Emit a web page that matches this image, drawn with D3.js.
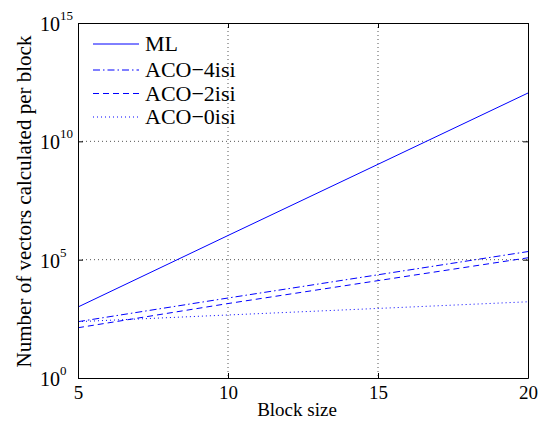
<!DOCTYPE html>
<html>
<head>
<meta charset="utf-8">
<script src="https://cdn.jsdelivr.net/npm/d3@7"></script>
<style>
  body { margin: 0; background: #fff; }
  svg text { font-family: "Liberation Serif", "Times New Roman", serif; fill: #000; }
</style>
</head>
<body>
<svg id="chart" width="545" height="425"></svg>
<script>
// block sizes read at the grid positions
const blockSize = [5, 10, 15, 20];

// vectors calculated per block
const mlValues = [1.0e3, 1.05e6, 1.07e9, 1.1e12];
const aco4Values = [240, 2.4e3, 2.3e4, 2.2e5];
const aco2Values = [133, 1.4e3, 1.3e4, 1.2e5];
const aco0Values = [240, 460, 870, 1.66e3];

const seriesNames = ["ML", "ACO\u22124isi", "ACO\u22122isi", "ACO\u22120isi"];
const xTicks = [5, 10, 15, 20];
const yTicks = [1, 1e5, 1e10, 1e15];
const yExponents = ["0", "5", "10", "15"];

const svg = d3.select("#chart");
const width = 545, height = 425;
const margin = { top: 23, right: 17, bottom: 47, left: 78 };
const innerW = width - margin.left - margin.right;
const innerH = height - margin.top - margin.bottom;

const x = d3.scaleLinear().domain([5, 20]).range([0, innerW]);
const y = d3.scaleLog().domain([1, 1e15]).range([innerH, 0]);

const g = svg.append("g")
    .attr("transform", `translate(${margin.left}, ${margin.top})`);

// dotted grid
g.append("g").selectAll("line")
    .data([10, 15])
    .enter().append("line")
    .attr("x1", d => x(d)).attr("x2", d => x(d))
    .attr("y1", 0).attr("y2", innerH)
    .attr("stroke", "#555").attr("stroke-width", 1)
    .attr("stroke-dasharray", "1,3");

g.append("g").selectAll("line")
    .data([1e5, 1e10])
    .enter().append("line")
    .attr("x1", 0).attr("x2", innerW)
    .attr("y1", d => y(d)).attr("y2", d => y(d))
    .attr("stroke", "#555").attr("stroke-width", 1)
    .attr("stroke-dasharray", "1,3");

// series lines
const series = [
    { name: seriesNames[0], values: mlValues, dash: null },
    { name: seriesNames[1], values: aco4Values, dash: "7,3,1.5,3" },
    { name: seriesNames[2], values: aco2Values, dash: "6,4" },
    { name: seriesNames[3], values: aco0Values, dash: "1,3" }
];

const line = d3.line()
    .x((d, i) => x(blockSize[i]))
    .y(d => y(d));

g.append("g").selectAll("path")
    .data(series)
    .enter().append("path")
    .attr("d", d => line(d.values))
    .attr("fill", "none")
    .attr("stroke", "#0000ff")
    .attr("stroke-width", 1)
    .attr("stroke-dasharray", d => d.dash);

// axes with inward ticks, mirrored on top / right
const xAxis = g.append("g")
    .attr("transform", `translate(0, ${innerH})`)
    .call(d3.axisBottom(x).tickValues(xTicks).tickSizeInner(-5).tickSizeOuter(0).tickPadding(8));
xAxis.selectAll("text").attr("font-size", 19);

g.append("g")
    .call(d3.axisTop(x).tickValues(xTicks).tickSizeInner(-5).tickSizeOuter(0).tickFormat(""));

g.append("g")
    .call(d3.axisLeft(y).tickValues(yTicks).tickSizeInner(-5).tickSizeOuter(0).tickFormat(""));

g.append("g")
    .attr("transform", `translate(${innerW}, 0)`)
    .call(d3.axisRight(y).tickValues(yTicks).tickSizeInner(-5).tickSizeOuter(0).tickFormat(""));

g.selectAll(".domain").attr("stroke", "#000");
g.selectAll(".tick line").attr("stroke", "#000");

// y tick labels as 10 with superscript exponent
const yLab = g.append("g").selectAll("text")
    .data(yTicks)
    .enter().append("text")
    .attr("x", -38)
    .attr("y", d => y(d) + 8)
    .attr("font-size", 20);
yLab.append("tspan").text("10");
yLab.append("tspan")
    .attr("dy", -11)
    .attr("font-size", 13)
    .text((d, i) => yExponents[i]);

// axis titles
svg.append("text")
    .attr("x", 297)
    .attr("y", 416)
    .attr("text-anchor", "middle")
    .attr("font-size", 19)
    .text("Block size");

svg.append("text")
    .attr("transform", `translate(31, ${margin.top + innerH / 2 + 1}) rotate(-90)`)
    .attr("text-anchor", "middle")
    .attr("font-size", 21)
    .text("Number of vectors calculated per block");

// legend, no box
const legend = svg.append("g");
const legendY = [44, 70, 93.5, 117];
series.forEach((s, i) => {
    legend.append("line")
        .attr("x1", 93).attr("x2", 139)
        .attr("y1", legendY[i]).attr("y2", legendY[i])
        .attr("stroke", "#0000ff")
        .attr("stroke-width", 1)
        .attr("stroke-dasharray", s.dash);
    legend.append("text")
        .attr("x", 145)
        .attr("y", legendY[i] + 7)
        .attr("font-size", 22)
        .text(s.name);
});
</script>
</body>
</html>
